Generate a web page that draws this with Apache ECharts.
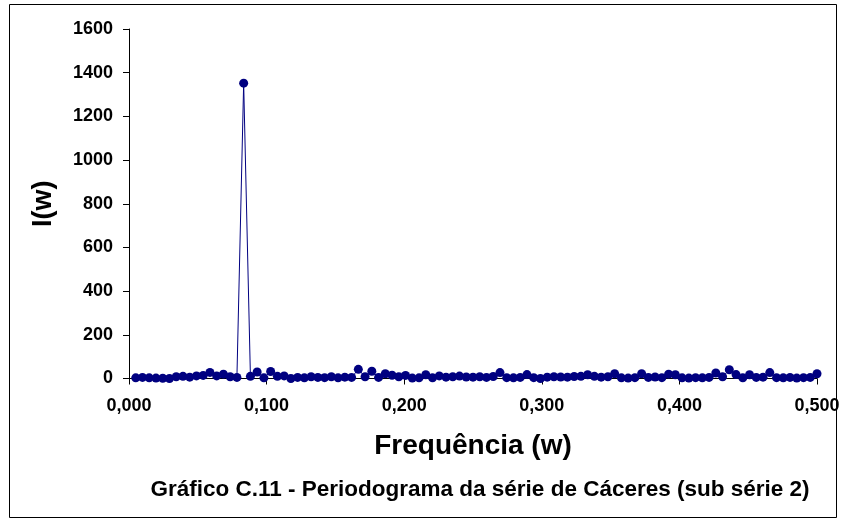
<!DOCTYPE html>
<html>
<head>
<meta charset="utf-8">
<script src="https://cdn.jsdelivr.net/npm/echarts@6/dist/echarts.min.js"></script>
<style>
html,body{margin:0;padding:0;background:#fff;}
#chart{width:846px;height:524px;}
</style>
</head>
<body>
<div id="chart"></div>
<script>
// Periodogram ordinates I(w) at Fourier frequencies w_k = k / N, k = 1..N/2
const N = 204;
const periodogram = [
  3, 5, 3, 2, 1, 0, 8, 10, 6, 12,
  14, 28, 12, 20, 8, 5, 1352, 10, 30, 3,
  32, 10, 12, 0, 5, 3, 8, 5, 4, 8,
  3, 6, 5, 42, 8, 33, 5, 22, 15, 8,
  14, 2, 3, 17, 3, 12, 6, 8, 11, 7,
  6, 8, 5, 9, 27, 4, 3, 5, 18, 4,
  0, 6, 8, 7, 6, 9, 10, 17, 10, 6,
  8, 22, 3, 2, 4, 22, 5, 7, 4, 20,
  17, 3, 2, 4, 3, 5, 25, 8, 40, 18,
  3, 17, 5, 6, 27, 4, 3, 5, 2, 4,
  5, 22
];
const frequencies = periodogram.map((_, i) => (i + 1) / N);
const xTicks = [0, 0.1, 0.2, 0.3, 0.4, 0.5];
const yTicks = [0, 200, 400, 600, 800, 1000, 1200, 1400, 1600];
const xAxisTitle = 'Frequência (w)';
const yAxisTitle = 'I(w)';
const chartTitle = 'Gráfico C.11 - Periodograma da série de Cáceres (sub série 2)';

const FONT = '"Liberation Sans", Arial, sans-serif';
const chart = echarts.init(document.getElementById('chart'), null, {renderer: 'canvas'});
chart.setOption({
  animation: false,
  backgroundColor: '#ffffff',
  grid: {left: 129, right: 29, top: 29, bottom: 145.5, containLabel: false},
  xAxis: {
    type: 'value',
    min: xTicks[0], max: xTicks[xTicks.length - 1], interval: 0.1,
    name: xAxisTitle, nameLocation: 'middle', nameGap: 54,
    nameTextStyle: {fontFamily: FONT, fontWeight: 'bold', fontSize: 28, color: '#000'},
    axisLine: {lineStyle: {color: '#000', width: 1}},
    axisTick: {show: true, inside: false, length: 6, lineStyle: {color: '#000'}},
    axisLabel: {
      margin: 19, color: '#000', fontFamily: FONT, fontWeight: 'bold', fontSize: 18,
      formatter: v => v.toFixed(3).replace('.', ',')
    },
    splitLine: {show: false}
  },
  yAxis: {
    type: 'value',
    min: yTicks[0], max: yTicks[yTicks.length - 1], interval: 200,
    name: yAxisTitle, nameLocation: 'middle', nameGap: 72,
    nameTextStyle: {fontFamily: FONT, fontWeight: 'bold', fontSize: 27, color: '#000'},
    axisLine: {show: true, lineStyle: {color: '#000', width: 1}},
    axisTick: {show: true, inside: false, length: 6, lineStyle: {color: '#000'}},
    axisLabel: {
      margin: 16, color: '#000', fontFamily: FONT, fontWeight: 'bold', fontSize: 18,
      formatter: v => String(v)
    },
    splitLine: {show: false}
  },
  series: [{
    type: 'line',
    data: frequencies.map((f, i) => [f, periodogram[i]]),
    symbol: 'circle',
    symbolSize: 9,
    showAllSymbol: true,
    lineStyle: {color: '#000080', width: 1},
    itemStyle: {color: '#000080'},
    z: 3
  }],
  graphic: [
    {
      type: 'rect', silent: true,
      shape: {x: 9.5, y: 4.5, width: 827, height: 513},
      style: {fill: 'none', stroke: '#000', lineWidth: 1}
    },
    {
      type: 'text', silent: true,
      x: 480, y: 490,
      style: {
        text: chartTitle, fill: '#000',
        font: 'bold 22.5px ' + FONT,
        textAlign: 'center', textVerticalAlign: 'middle'
      }
    }
  ]
});
</script>
</body>
</html>
